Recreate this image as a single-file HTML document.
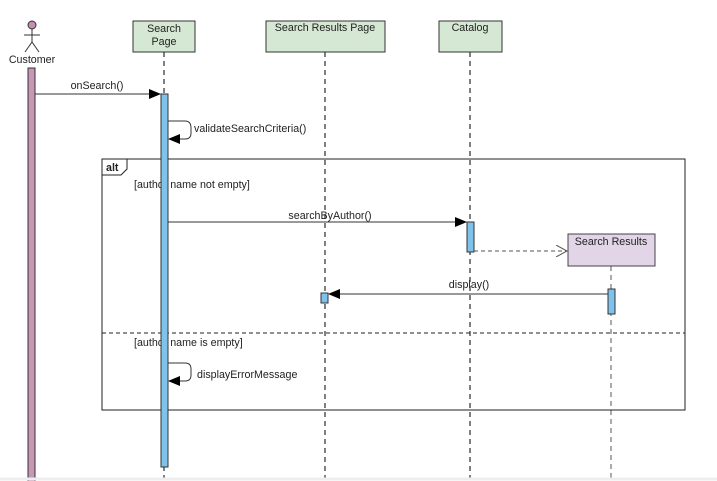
<!DOCTYPE html>
<html><head><style>body{margin:0;background:#fff}svg{display:block}text{font-family:"Liberation Sans",Arial,sans-serif;font-size:10.7px;fill:#222}</style></head>
<body>
<svg width="717" height="481" viewBox="0 0 717 481" xmlns="http://www.w3.org/2000/svg">
<defs>
<marker id="a" markerWidth="12" markerHeight="10" refX="11" refY="5" orient="auto" markerUnits="userSpaceOnUse"><path d="M0,0 L12,5 L0,10 Z" fill="#000"/></marker>
<marker id="o" markerWidth="12" markerHeight="12" refX="11" refY="6" orient="auto" markerUnits="userSpaceOnUse"><path d="M0,0 L11,6 L0,12" fill="none" stroke="#555" stroke-width="1"/></marker>
</defs>
<g stroke="#000" stroke-dasharray="5,4" stroke-width="1">
<line x1="164" y1="52" x2="164" y2="481"/>
<line x1="325" y1="52" x2="325" y2="481"/>
<line x1="470" y1="52" x2="470" y2="481"/>
<line x1="611" y1="266" x2="611" y2="481" stroke="#555"/>
</g>
<rect x="102" y="159" width="583" height="251" fill="none" stroke="#222"/>
<path d="M102,159 H127 V169 L121,175 H102" fill="none" stroke="#222"/>
<text x="106" y="171" font-weight="bold">alt</text>
<line x1="102" y1="333" x2="685" y2="333" stroke="#222" stroke-dasharray="4,3"/>
<text x="134" y="188">[author name not empty]</text>
<text x="134" y="346">[author name is empty]</text>
<rect x="133" y="21" width="62" height="31" fill="#d5e8d4" stroke="#333"/>
<text x="164" y="32" text-anchor="middle">Search</text><text x="164" y="45" text-anchor="middle">Page</text>
<rect x="266" y="21" width="119" height="31" fill="#d5e8d4" stroke="#333"/>
<text x="325" y="31" text-anchor="middle">Search Results Page</text>
<rect x="439" y="21" width="63" height="31" fill="#d5e8d4" stroke="#333"/>
<text x="470" y="31" text-anchor="middle">Catalog</text>
<rect x="568" y="234" width="87" height="32" fill="#e1d5e7" stroke="#444"/>
<text x="611" y="245" text-anchor="middle">Search Results</text>
<circle cx="32" cy="25" r="4" fill="#c090b0" stroke="#333"/>
<g stroke="#333"><line x1="32" y1="29" x2="32" y2="42"/><line x1="24" y1="35" x2="40" y2="35"/><line x1="32" y1="42" x2="25" y2="52"/><line x1="32" y1="42" x2="39" y2="52"/></g>
<text x="32" y="63" text-anchor="middle">Customer</text>
<rect x="28" y="68" width="7" height="420" fill="#c797b8" stroke="#333"/>
<rect x="161" y="94" width="7" height="373" fill="#7fc3ec" stroke="#333"/>
<rect x="467" y="222" width="7" height="30" fill="#7fc3ec" stroke="#333"/>
<rect x="608" y="289" width="7" height="25" fill="#7fc3ec" stroke="#333"/>
<rect x="321" y="293" width="7" height="10" fill="#7fc3ec" stroke="#333"/>
<line x1="35" y1="94" x2="160" y2="94" stroke="#333" marker-end="url(#a)"/>
<text x="97" y="89" text-anchor="middle">onSearch()</text>
<path d="M168,121 H185 Q191,121 191,128 V133 Q191,139 185,139 H169" fill="none" stroke="#333" marker-end="url(#a)"/>
<text x="194" y="132">validateSearchCriteria()</text>
<line x1="168" y1="222" x2="466" y2="222" stroke="#333" marker-end="url(#a)"/>
<text x="330" y="219" text-anchor="middle">searchByAuthor()</text>
<line x1="474" y1="251" x2="567" y2="251" stroke="#555" stroke-dasharray="4,3" marker-end="url(#o)"/>
<line x1="608" y1="294" x2="329" y2="294" stroke="#333" marker-end="url(#a)"/>
<text x="469" y="288" text-anchor="middle">display()</text>
<path d="M168,363 H185 Q191,363 191,369 V375 Q191,381 185,381 H169" fill="none" stroke="#333" marker-end="url(#a)"/>
<text x="197" y="378">displayErrorMessage</text>
<line x1="0" y1="479" x2="717" y2="479" stroke="#eee" stroke-width="3"/>
</svg>
</body></html>
